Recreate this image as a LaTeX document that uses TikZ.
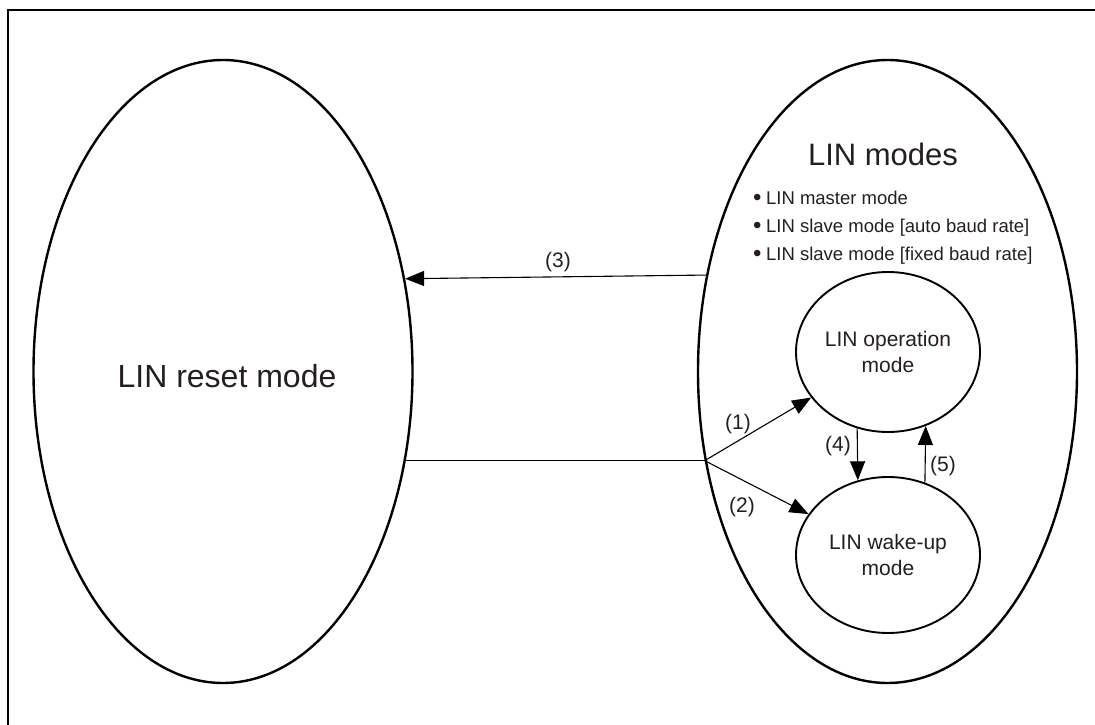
\documentclass[tikz,border=0pt]{standalone}
\usepackage{fontspec}
\setmainfont{Liberation Sans}
\usetikzlibrary{shapes.geometric,arrows.meta}
\definecolor{textc}{RGB}{35,31,32}
\newcommand{\mybul}{\raisebox{-1.8pt}{\scalebox{1.3}{•}}\hspace{4.5pt}}
\begin{document}
\begin{tikzpicture}[x=1pt,y=-1pt,
  bigell/.style={draw,line width=2.4pt,ellipse,inner sep=0pt,minimum width=379pt,minimum height=623pt},
  smallell/.style={draw,line width=1.9pt,ellipse,inner sep=0pt,minimum width=184pt,align=center,text=textc,font=\fontsize{21}{26}\selectfont},
  conn/.style={line width=1.1pt},
  arr/.style={conn,-{Triangle[length=19pt,width=15pt]}},
  lbl/.style={text=textc,font=\fontsize{21}{24}\selectfont,inner sep=0pt,anchor=base},
  bullet/.style={text=textc,font=\fontsize{18.5}{22}\selectfont,inner sep=0pt,anchor=base west}
]
\useasboundingbox (0,0) rectangle (1095,725);
\draw[line width=2.2pt] (8,725) -- (8,10) -- (1095,10);

\node[bigell] (reset) at (223,371.5) {};
\node[bigell] (modes) at (887.5,371.5) {};
\node[text=textc,font=\fontsize{32}{36}\selectfont,inner sep=0pt,anchor=base] (resettxt) at (227,387) {LIN reset mode};
\node[text=textc,font=\fontsize{31}{36}\selectfont,inner sep=0pt,anchor=base] (modestxt) at (883,165) {LIN modes};
\node[bullet] (b1) at (753,204) {\mybul LIN master mode};
\node[bullet] (b2) at (753,232) {\mybul LIN slave mode [auto baud rate]};
\node[bullet] (b3) at (753,260) {\mybul LIN slave mode [fixed baud rate]};

\node[smallell,minimum height=160pt] (op) at (888,352) {LIN operation\\mode};
\node[smallell,minimum height=156pt] (wake) at (888,555) {LIN wake-up\\mode};

\coordinate (j) at (modes.206.8);
\draw[conn] (reset.-26.9) -- (j);
\draw[arr] (modes.152.4) -- (reset.27.7);
\draw[arr] (j) -- (op);
\draw[arr] (j) -- (wake);
\draw[arr] (op.248.4) -- (wake.112.1);
\draw[arr] (wake.63.4) -- (op.-63.9);

\node[lbl] (l3) at (558,267) {(3)};
\node[lbl] (l1) at (738,429) {(1)};
\node[lbl] (l4) at (838,451) {(4)};
\node[lbl] (l5) at (943,471) {(5)};
\node[lbl] (l2) at (742,512) {(2)};
\end{tikzpicture}
\end{document}
